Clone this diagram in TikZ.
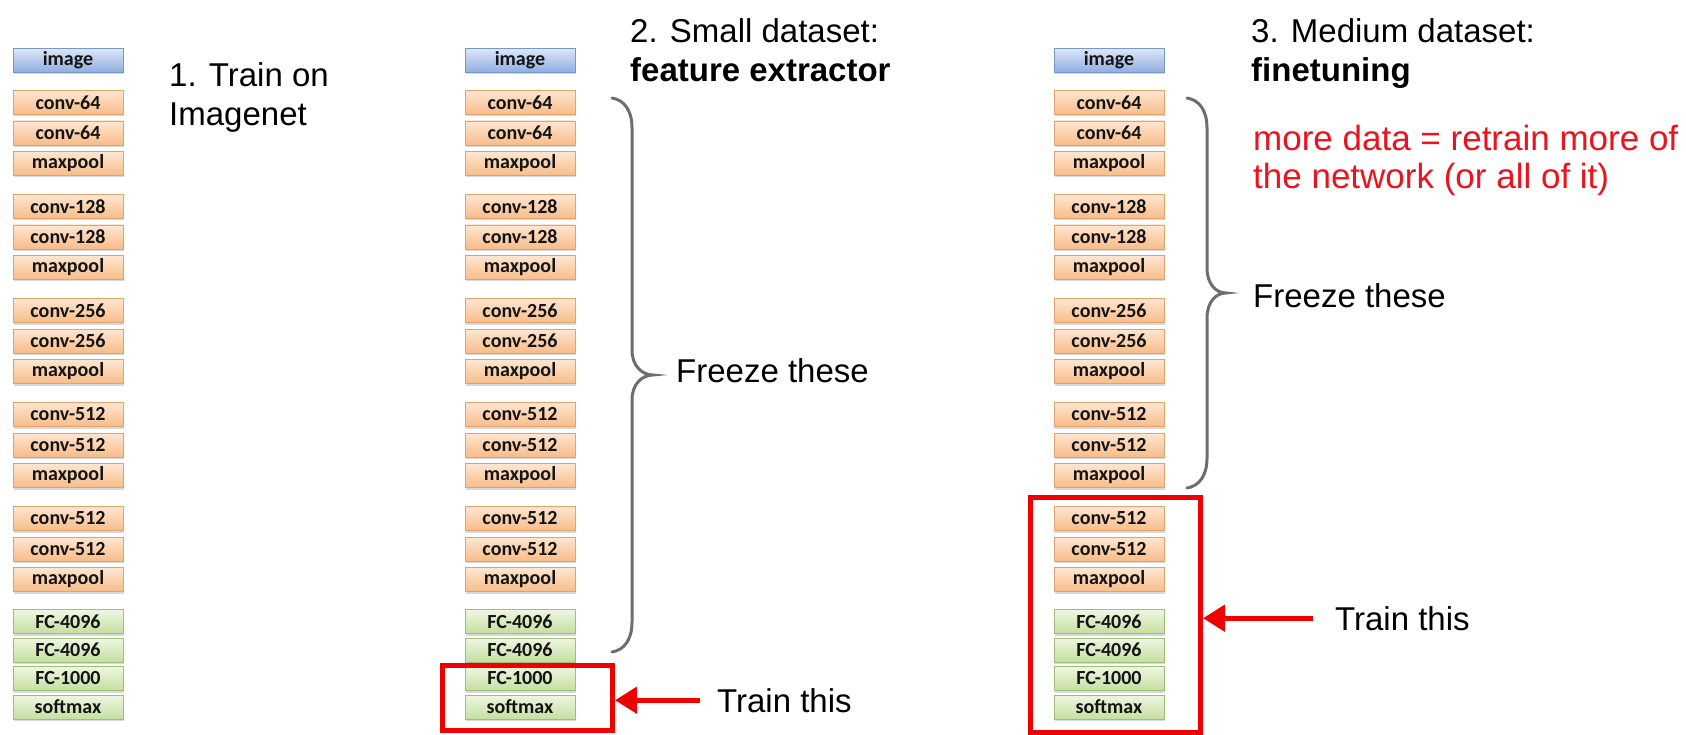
\documentclass[tikz,border=0pt]{standalone}
\usepackage{fontspec}
\setmainfont{Liberation Sans}
\newfontfamily\lblfont{Carlito}
\usetikzlibrary{shadows,arrows.meta}
\definecolor{orTop}{HTML}{FDE6D2}
\definecolor{orBot}{HTML}{F8BC88}
\definecolor{orDraw}{HTML}{E0A26E}
\definecolor{blTop}{HTML}{DCE6F7}
\definecolor{blBot}{HTML}{8FAEE0}
\definecolor{blDraw}{HTML}{7896C8}
\definecolor{grTop}{HTML}{EEF6E2}
\definecolor{grBot}{HTML}{C4DFA0}
\definecolor{grDraw}{HTML}{9FBE78}
\definecolor{braceGray}{HTML}{6E6E6E}
\definecolor{redLine}{RGB}{240,0,0}
\definecolor{redText}{RGB}{235,20,30}
\definecolor{lblText}{HTML}{141414}
\tikzset{
  layerbox/.style={minimum width=110pt, minimum height=24pt, inner sep=0pt,
    font=\lblfont\bfseries\fontsize{20}{21}\selectfont, text=lblText, line width=0.8pt,
    drop shadow={shadow xshift=1pt, shadow yshift=-2pt, opacity=0.3}},
  orangebox/.style={layerbox, draw=orDraw, top color=orTop, bottom color=orBot},
  bluebox/.style={layerbox, draw=blDraw, top color=blTop, bottom color=blBot},
  greenbox/.style={layerbox, draw=grDraw, top color=grTop, bottom color=grBot},
  bigtext/.style={font=\fontsize{33}{39}\selectfont, inner sep=0pt, anchor=base west},
  bracepath/.style={draw=braceGray, line width=3pt, line cap=round},
  redbox/.style={draw=redLine, line width=5pt, inner sep=0pt},
  redarrow/.style={draw=redLine, line width=5pt, -{Triangle[length=22pt,width=26pt]}},
}
\newcommand{\netcol}[2]{%
  \node[bluebox] (#1-0) at (#2,-60.5) {image};
  \foreach \lab/\y [count=\i] in {conv-64/102.5, conv-64/133, maxpool/163.5,
      conv-128/206.5, conv-128/237, maxpool/267.5,
      conv-256/310.5, conv-256/341, maxpool/371.5,
      conv-512/414.5, conv-512/445, maxpool/475.5,
      conv-512/518.5, conv-512/549, maxpool/579.5}
    \node[orangebox] (#1-\i) at (#2,-\y) {\lab};
  \foreach \lab/\y [count=\i from 16] in {FC-4096/621.5, FC-4096/650, FC-1000/678.5, softmax/707}
    \node[greenbox] (#1-\i) at (#2,-\y) {\lab};
}
\begin{document}
\begin{tikzpicture}[x=1pt,y=1pt]
\useasboundingbox[fill=white] (0,0) rectangle (1686,-735);

% columns of layers
\netcol{a}{68}
\netcol{b}{520}
\netcol{c}{1109}

% column 1 text
\node[bigtext] (t1a) at (169,-87) {1. Train on};
\node[bigtext] (t1b) at (169,-126) {Imagenet};

% column 2 text
\node[bigtext] (t2a) at (630,-43) {2. Small dataset:};
\node[bigtext, font=\fontsize{33}{39}\selectfont\bfseries] (t2b) at (630,-82) {feature extractor};
\node[bigtext] (f2) at (676,-382) {Freeze these};

% column 3 text
\node[bigtext] (t3a) at (1251,-43) {3. Medium dataset:};
\node[bigtext, font=\fontsize{33}{39}\selectfont\bfseries] (t3b) at (1251,-82) {finetuning};
\node[bigtext, text=redText, font=\fontsize{35}{40}\selectfont] (r3a) at (1253,-151) {more data = retrain more of};
\node[bigtext, text=redText, font=\fontsize{35}{40}\selectfont] (r3b) at (1253,-189) {the network (or all of it)};
\node[bigtext] (f3) at (1253,-308) {Freeze these};

% braces
\draw[bracepath] (612,-98) .. controls (624,-100) and (632,-110) .. (632,-128)
  -- (632,-350) .. controls (632,-366) and (642,-375) .. (653,-375)
  .. controls (642,-375) and (632,-384) .. (632,-400)
  -- (632,-622) .. controls (632,-640) and (624,-650) .. (612,-652);
\draw[bracepath] (1187,-98) .. controls (1199,-100) and (1207,-110) .. (1207,-128)
  -- (1207,-268) .. controls (1207,-284) and (1216,-293) .. (1226,-293)
  .. controls (1216,-293) and (1207,-302) .. (1207,-318)
  -- (1207,-458) .. controls (1207,-476) and (1199,-486) .. (1187,-488);

% red boxes
\node[redbox, minimum width=170pt, minimum height=65pt] (rb2) at (527.5,-698) {};
\node[redbox, minimum width=170pt, minimum height=235pt] (rb3) at (1115.5,-615) {};

% train this
\node[font=\fontsize{33}{39}\selectfont, inner ysep=0pt, inner xsep=0pt, anchor=base west] (tr2) at (717,-712) {Train this};
\node[font=\fontsize{33}{39}\selectfont, inner ysep=0pt, inner xsep=0pt, anchor=base west] (tr3) at (1335,-630) {Train this};
\coordinate (s2) at ([xshift=-17pt]tr2.west);
\coordinate (s3) at ([xshift=-22pt]tr3.west);
\draw[redarrow] (s2) -- (rb2.east |- s2);
\draw[redarrow] (s3) -- (rb3.east |- s3);
\end{tikzpicture}
\end{document}
